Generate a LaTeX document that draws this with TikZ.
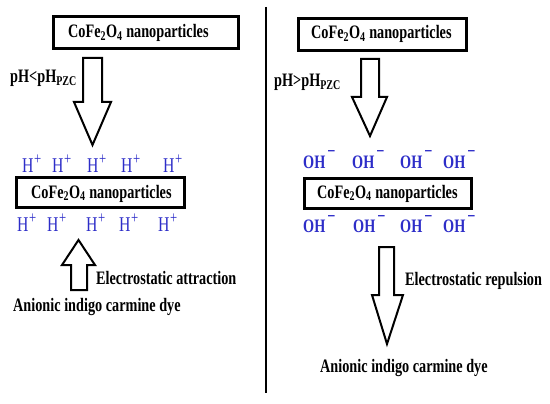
\documentclass[tikz,border=0pt]{standalone}
\usepackage{fontspec}
\setmainfont{Liberation Serif}[FakeStretch=0.75]
\definecolor{ionblue}{RGB}{45,45,200}
\newcommand\Hplus{H\kern0.6pt\raisebox{8.5pt}{\fontsize{17}{17}\selectfont +}}
\newcommand\OHminus{OH\kern2pt\raisebox{10.5pt}{\fontsize{19}{19}\selectfont −}}
\begin{document}
\begin{tikzpicture}[x=1pt,y=-1pt,
  box/.style={draw, line width=3pt, inner sep=0pt},
  lbl/.style={anchor=base west, inner sep=0pt, font=\fontsize{19}{22}\selectfont\bfseries},
  hion/.style={anchor=base west, inner sep=0pt, text=ionblue, font=\fontsize{21}{24}\selectfont},
  ohion/.style={anchor=base west, inner sep=0pt, text=ionblue, font=\fontsize{19}{22}\selectfont\bfseries},
  harrow/.style={draw, line width=2pt, line join=miter, fill=white},
  divider/.style={line width=2pt}
]
\useasboundingbox (0,0) rectangle (550,404);

% boxes
\node[box, minimum width=185pt, minimum height=32pt] (boxA) at (146,32.7) {};
\node[box, minimum width=168pt, minimum height=30pt] (boxB) at (100.5,192.5) {};
\node[box, minimum width=168pt, minimum height=32pt] (boxC) at (382.5,34.5) {};
\node[box, minimum width=167pt, minimum height=30pt] (boxD) at (388,193.5) {};

\node[lbl] (tA) at (68,37.5) {CoFe\textsubscript{2}O\textsubscript{4} nanoparticles};
\node[lbl] (tB) at (31,198) {CoFe\textsubscript{2}O\textsubscript{4} nanoparticles};
\node[lbl] (tC) at (311,39) {CoFe\textsubscript{2}O\textsubscript{4} nanoparticles};
\node[lbl] (tD) at (317,198) {CoFe\textsubscript{2}O\textsubscript{4} nanoparticles};

% hollow arrows
\draw[harrow] (83,58) -- (102,58) -- (102,102) -- (111,102) -- (92.5,145) -- (74,102) -- (83,102) -- cycle;
\draw[harrow] (71,290) -- (87,290) -- (87,265) -- (95,265) -- (78.5,240) -- (62,265) -- (71,265) -- cycle;
\draw[harrow] (361,59) -- (379,59) -- (379,97) -- (387,97) -- (370,136) -- (352,97) -- (361,97) -- cycle;
\draw[harrow] (379,247) -- (394,247) -- (394,295) -- (403,295) -- (387,344) -- (372,295) -- (379,295) -- cycle;

% divider
\coordinate (dtop) at (266,7);
\coordinate (dbot) at (266,393);
\draw[divider] (dtop) -- (dbot);

% labels
\node[lbl] (phL) at (10,82.5) {pH<pH\textsubscript{PZC}};
\node[lbl] (phR) at (274,87) {pH>pH\textsubscript{PZC}};
\node[lbl] (attr) at (96,284) {Electrostatic attraction};
\node[lbl] (dyeL) at (13,311) {Anionic indigo carmine dye};
\node[lbl] (rep) at (405,285) {Electrostatic repulsion};
\node[lbl] (dyeR) at (320,372) {Anionic indigo carmine dye};

% H+ ions
\node[hion] (h1) at (22,173) {\Hplus};
\node[hion] (h2) at (52,173) {\Hplus};
\node[hion] (h3) at (87,173) {\Hplus};
\node[hion] (h4) at (121,173) {\Hplus};
\node[hion] (h5) at (163,173) {\Hplus};
\node[hion] (h6) at (17,232) {\Hplus};
\node[hion] (h7) at (47,232) {\Hplus};
\node[hion] (h8) at (86,232) {\Hplus};
\node[hion] (h9) at (119,232) {\Hplus};
\node[hion] (h10) at (158,232) {\Hplus};

% OH- ions
\node[ohion] (o1) at (303,168) {\OHminus};
\node[ohion] (o2) at (352,168) {\OHminus};
\node[ohion] (o3) at (400,168) {\OHminus};
\node[ohion] (o4) at (443,168) {\OHminus};
\node[ohion] (o5) at (303,233) {\OHminus};
\node[ohion] (o6) at (353,233) {\OHminus};
\node[ohion] (o7) at (400,233) {\OHminus};
\node[ohion] (o8) at (443,233) {\OHminus};
\end{tikzpicture}
\end{document}
